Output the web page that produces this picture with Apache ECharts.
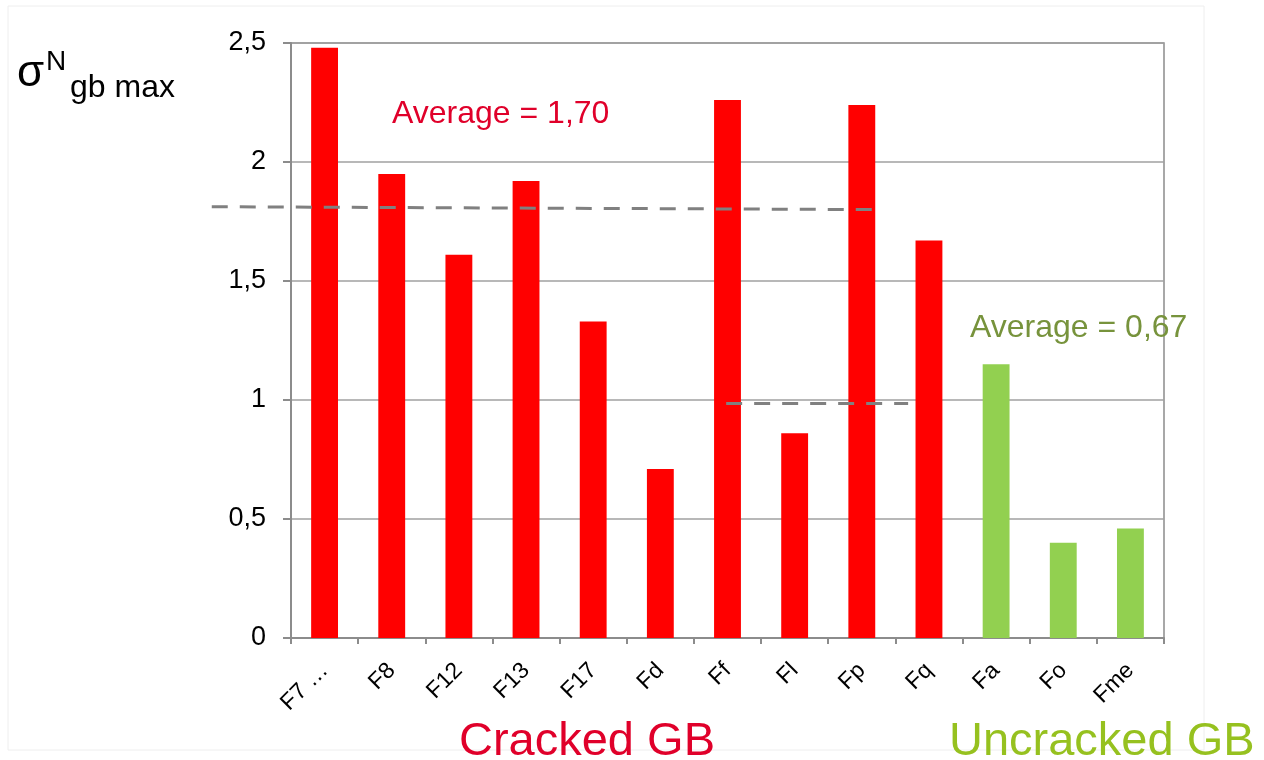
<!DOCTYPE html>
<html>
<head>
<meta charset="utf-8">
<title>σN gb max – cracked vs uncracked grain boundaries</title>
<script src="https://cdn.jsdelivr.net/npm/echarts@6/dist/echarts.min.js"></script>
<style>
  html, body { margin: 0; padding: 0; background: #ffffff; }
  #chart { width: 1264px; height: 760px; }
</style>
</head>
<body>
<div id="chart"></div>
<script>
// Grain boundaries that cracked, with their peak normalised normal stress
const crackedCategories = ['F7 …', 'F8', 'F12', 'F13', 'F17', 'Fd', 'Ff', 'Fl', 'Fp', 'Fq'];
const crackedValues     = [2.48, 1.95, 1.61, 1.92, 1.33, 0.71, 2.26, 0.86, 2.24, 1.67];

// Grain boundaries that stayed intact
const uncrackedCategories = ['Fa', 'Fo', 'Fme'];
const uncrackedValues     = [1.15, 0.40, 0.46];

// Value-axis ticks
const yTicks = [0, 0.5, 1, 1.5, 2, 2.5];

// Dashed guide lines, as [category position, value] pairs
// (category position: 0 = left edge of the first slot, 13 = right edge of the last)
const upperGuide = [[-1.18, 1.812], [8.72, 1.800]];
const lowerGuide = [[6.48, 0.985], [9.19, 0.985]];

const FONT = '"Liberation Sans", Arial, Helvetica, sans-serif';
const RED = '#ff0000';
const GREEN_BAR = '#92d050';
const RED_TEXT = '#e0002a';
const OLIVE_TEXT = '#77933c';
const GREEN_TEXT = '#96c11f';

// Plot area geometry
const PLOT_LEFT = 291, PLOT_RIGHT = 100, PLOT_TOP = 43, PLOT_BOTTOM = 122;
const SLOT = (1264 - PLOT_LEFT - PLOT_RIGHT) / 13;
// The guide-line overlay reaches a bit left of the value axis
const GUIDE_MIN = -1.25;

const categories = crackedCategories.concat(uncrackedCategories);
const barData = crackedValues.map(v => ({ value: v, itemStyle: { color: RED } }))
  .concat(uncrackedValues.map(v => ({ value: v, itemStyle: { color: GREEN_BAR } })));

const mean = arr => arr.reduce((s, v) => s + v, 0) / arr.length;
const fmt = v => v.toFixed(2).replace('.', ',');
const crackedAvgText = 'Average = ' + fmt(mean(crackedValues));
const uncrackedAvgText = 'Average = ' + fmt(mean(uncrackedValues));

const chart = echarts.init(document.getElementById('chart'), null, { renderer: 'canvas' });

const guideStyle = { color: '#808080', width: 3, type: [16, 12] };
const axisGray = '#8c8c8c';

chart.setOption({
  animation: false,
  backgroundColor: '#ffffff',
  textStyle: { fontFamily: FONT },
  grid: [
    {
      left: PLOT_LEFT, right: PLOT_RIGHT, top: PLOT_TOP, bottom: PLOT_BOTTOM,
      show: true, borderColor: axisGray, borderWidth: 1.5, backgroundColor: 'transparent'
    },
    {
      left: PLOT_LEFT + GUIDE_MIN * SLOT, right: PLOT_RIGHT, top: PLOT_TOP, bottom: PLOT_BOTTOM,
      show: false
    }
  ],
  xAxis: [
    {
      type: 'category', gridIndex: 0,
      data: categories,
      boundaryGap: true,
      axisLine: { lineStyle: { color: axisGray, width: 2 } },
      axisTick: { show: true, length: 6, lineStyle: { color: axisGray, width: 2 } },
      axisLabel: {
        interval: 0, rotate: 45, margin: 29,
        color: '#000000', fontSize: 23, fontFamily: FONT
      },
      splitLine: { show: false }
    },
    {
      type: 'value', gridIndex: 1, min: GUIDE_MIN, max: 13, show: false
    }
  ],
  yAxis: [
    {
      type: 'value', gridIndex: 0,
      min: yTicks[0], max: yTicks[yTicks.length - 1], interval: 0.5,
      axisLine: { show: true, lineStyle: { color: axisGray, width: 2 } },
      axisTick: { show: true, length: 8, lineStyle: { color: axisGray, width: 2 } },
      axisLabel: {
        margin: 25, color: '#000000', fontSize: 27, fontFamily: FONT,
        formatter: v => String(v).replace('.', ',')
      },
      splitLine: { show: true, lineStyle: { color: '#a0a0a0', width: 1.5 } }
    },
    {
      type: 'value', gridIndex: 1,
      min: yTicks[0], max: yTicks[yTicks.length - 1], show: false
    }
  ],
  series: [
    {
      type: 'bar', xAxisIndex: 0, yAxisIndex: 0,
      data: barData,
      barWidth: '40%'
    },
    {
      type: 'line', xAxisIndex: 1, yAxisIndex: 1,
      data: upperGuide, symbol: 'none', z: 5,
      lineStyle: guideStyle
    },
    {
      type: 'line', xAxisIndex: 1, yAxisIndex: 1,
      data: lowerGuide, symbol: 'none', z: 5,
      lineStyle: guideStyle
    }
  ],
  graphic: [
    {
      type: 'rect', z: -10, silent: true,
      shape: { x: 8, y: 6, width: 1196, height: 744 },
      style: { fill: 'none', stroke: '#eeeeee', lineWidth: 1 }
    },
    {
      type: 'text', left: 17, top: 52,
      style: { text: 'σ', font: '44px ' + FONT, fill: '#000000' }
    },
    {
      type: 'text', left: 46, top: 48,
      style: { text: 'N', font: '28px ' + FONT, fill: '#000000' }
    },
    {
      type: 'text', left: 70, top: 72,
      style: { text: 'gb max', font: '32px ' + FONT, fill: '#000000' }
    },
    {
      type: 'text', left: 392, top: 98,
      style: { text: crackedAvgText, font: '32px ' + FONT, fill: RED_TEXT }
    },
    {
      type: 'text', left: 970, top: 312,
      style: { text: uncrackedAvgText, font: '32px ' + FONT, fill: OLIVE_TEXT }
    },
    {
      type: 'text', left: 459, top: 719,
      style: { text: 'Cracked GB', font: '47px ' + FONT, fill: RED_TEXT }
    },
    {
      type: 'text', left: 949, top: 719,
      style: { text: 'Uncracked GB', font: '47px ' + FONT, fill: GREEN_TEXT }
    }
  ]
});
</script>
</body>
</html>
